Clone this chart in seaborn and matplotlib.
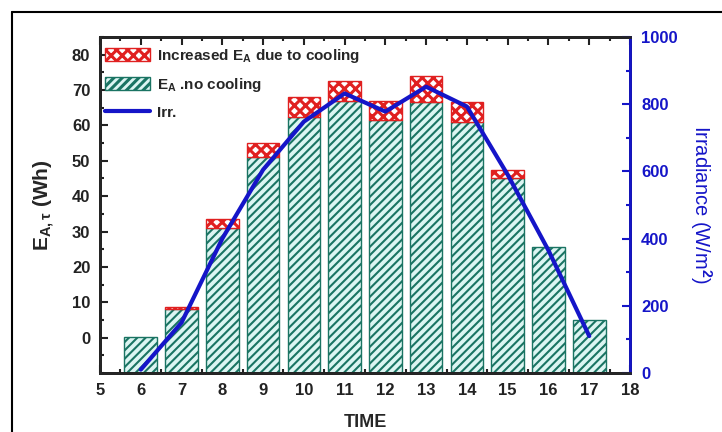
import numpy as np
import pandas as pd
import matplotlib
matplotlib.use("Agg")
import matplotlib.pyplot as plt
import seaborn as sns
from matplotlib.patches import Patch
from matplotlib.lines import Line2D
from matplotlib.ticker import MultipleLocator

# values
hours = [6, 7, 8, 9, 10, 11, 12, 13, 14, 15, 16, 17]
ea_no_cooling = [0.2, 8.1, 31.0, 51.0, 62.3, 66.8, 61.4, 66.5, 61.0, 45.1, 25.6, 5.1]
ea_cooling = [0.2, 8.8, 33.6, 55.0, 67.9, 72.6, 67.0, 74.0, 66.6, 47.5, 25.6, 5.1]
irradiance = [10, 150, 400, 605, 748, 832, 778, 852, 793, 590, 365, 110]

sns.set_style("ticks")
plt.rcParams['font.family'] = ['Liberation Sans', 'DejaVu Sans']
plt.rcParams['font.weight'] = 'bold'
plt.rcParams['mathtext.fontset'] = 'custom'
plt.rcParams['mathtext.rm'] = 'Liberation Sans:bold'
plt.rcParams['mathtext.it'] = 'Liberation Sans:bold'
plt.rcParams['mathtext.bf'] = 'Liberation Sans:bold'

green = "#1a7463"
green_face = "#dcf5f2"
red = "#e02020"
blue = "#1515c8"
ymin = -10

df = pd.DataFrame({"hour": hours, "base": ea_no_cooling, "total": ea_cooling,
                   "irr": irradiance})
df["extra"] = df["total"] - df["base"]

fig = plt.figure(figsize=(7.22, 4.32), dpi=100)
ax = fig.add_axes([100/722, 1-373/432, 530/722, 336/432])

# no-cooling bars, drawn from the bottom of the axis
plt.rcParams['hatch.linewidth'] = 1.5
sns.barplot(data=df, x="hour", y=df["base"] - ymin, bottom=ymin, native_scale=True,
            width=0.8, color=green_face, saturation=1, edgecolor=green,
            linewidth=1.0, hatch="////", ax=ax)
green_handle = Patch(facecolor=green_face, edgecolor=green, hatch="////", linewidth=1.0)

# extra energy from cooling on top
plt.rcParams['hatch.linewidth'] = 2.2
inc = df[df["extra"] > 0]
sns.barplot(data=inc, x="hour", y="extra", bottom=inc["base"].values, native_scale=True,
            width=0.8, color="white", saturation=1, edgecolor=red,
            linewidth=1.0, hatch="xxx", ax=ax)
red_handle = Patch(facecolor="white", edgecolor=red, hatch="xxx", linewidth=1.0)

ax.set_xlim(5, 18)
ax.set_ylim(ymin, 85)
ax.xaxis.set_major_locator(MultipleLocator(1))
ax.xaxis.set_minor_locator(MultipleLocator(0.5))
ax.yaxis.set_minor_locator(MultipleLocator(5))
ax.set_yticks(range(0, 81, 10))
ax.tick_params(axis="both", which="both", direction="in", width=1.5, top=True,
               right=False, labelsize=12, colors="#222222")
ax.tick_params(which="major", length=6)
ax.tick_params(which="minor", length=3)
ax.tick_params(axis="y", pad=7)
ax.tick_params(axis="x", pad=7)
for s in ax.spines.values():
    s.set_linewidth(2)
    s.set_color("black")
ax.set_xlabel("TIME", fontsize=13, fontweight="bold", labelpad=12)
ax.set_ylabel(r"E$_{\mathrm{A,\tau}}$ (Wh)", fontsize=15, fontweight="bold", labelpad=11)

# irradiance on the right axis
ax2 = ax.twinx()
sns.lineplot(data=df, x="hour", y="irr", color=blue, linewidth=3, ax=ax2)
ax2.set_ylim(0, 1000)
ax2.set_xlim(5, 18)
ax2.yaxis.set_major_locator(MultipleLocator(200))
ax2.yaxis.set_minor_locator(MultipleLocator(100))
ax2.tick_params(axis="y", which="both", direction="in", width=1.5, colors=blue,
                labelsize=12, pad=8)
ax2.tick_params(axis="y", which="major", length=6)
ax2.tick_params(axis="y", which="minor", length=3)
for s in ax2.spines.values():
    s.set_linewidth(2)
ax2.spines["right"].set_color(blue)
ax2.set_xlabel("")
ax2.set_ylabel(r"Irradiance (W/m$^{2}$)", fontsize=14.5, fontweight="normal",
               color=blue, rotation=270, labelpad=26,
               family="Liberation Sans")

handles = [
    red_handle,
    green_handle,
    Line2D([0], [0], color=blue, linewidth=3),
]
labels = [r"Increased E$_{\mathrm{A}}$ due to cooling", r"E$_{\mathrm{A}}$ .no cooling", "Irr."]
ax2.legend(handles, labels, loc="upper left", bbox_to_anchor=(0.0, 0.985),
           frameon=False, fontsize=11, handlelength=3.0, handleheight=0.95,
           handletextpad=0.4, labelspacing=0.75, borderaxespad=0.1, borderpad=0.2)

# outer frame of the original figure
fig.add_artist(Line2D([12/722, 12/722], [0, 1-12/432], color="black", lw=1.5,
                      transform=fig.transFigure))
fig.add_artist(Line2D([12/722, 1], [1-12/432, 1-12/432], color="black", lw=1.5,
                      transform=fig.transFigure))

fig.savefig("out.png", dpi=100)
